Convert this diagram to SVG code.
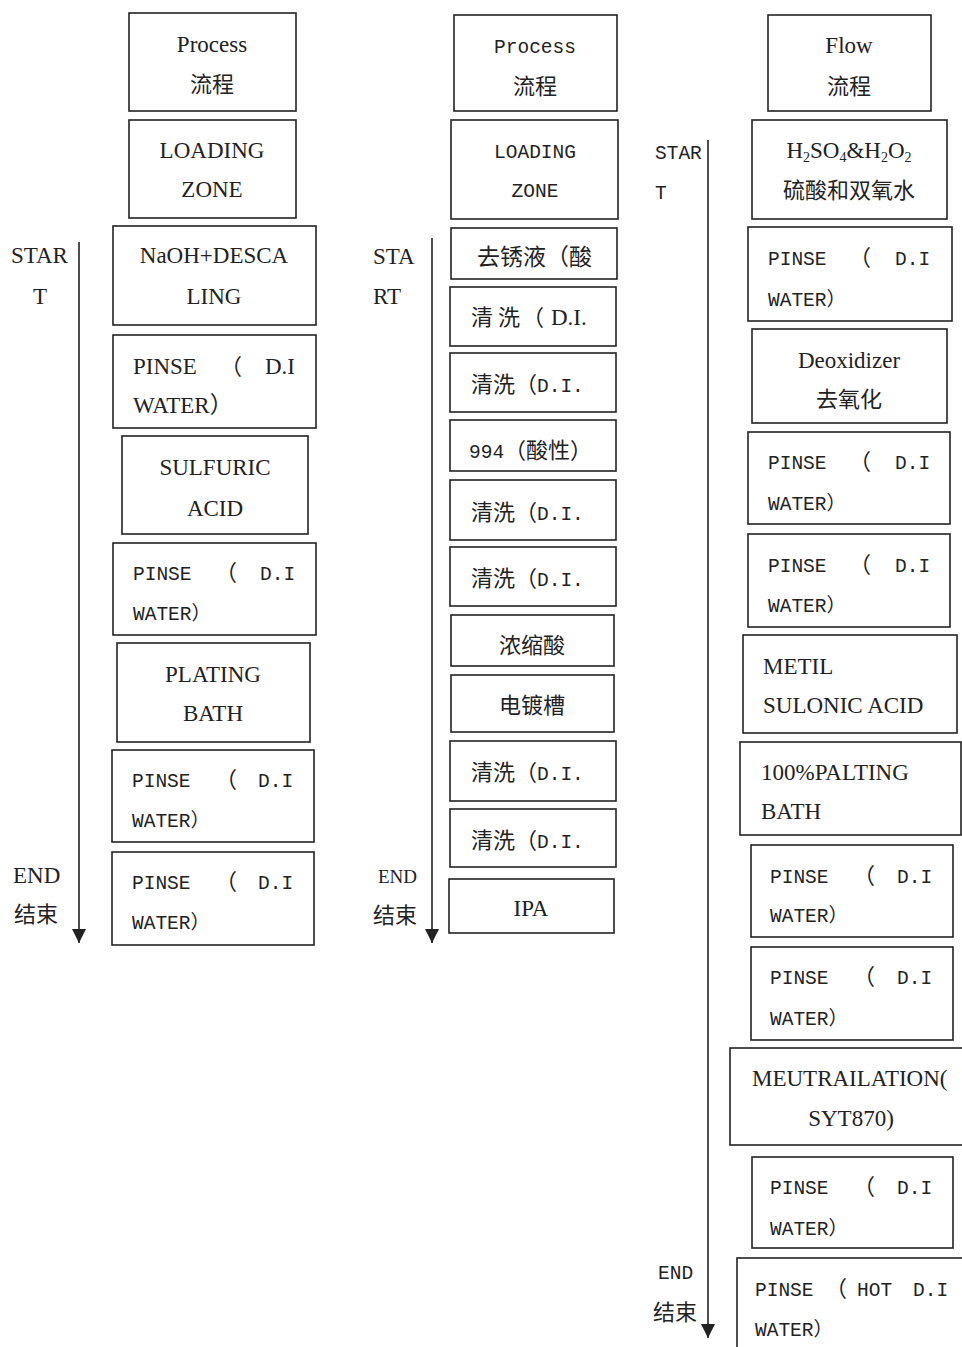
<svg xmlns="http://www.w3.org/2000/svg" width="962" height="1347" viewBox="0 0 962 1347">
<style>
.box{fill:#fff;stroke:#222;stroke-width:1.6}
.s{font-family:"Liberation Serif","Noto Sans CJK SC",serif;font-size:23px;fill:#222}
.m{font-family:"Liberation Mono","Noto Sans CJK SC",monospace;font-size:19.5px;fill:#222}
.c{font-family:"Noto Sans CJK SC",sans-serif;font-size:22px;fill:#222}
.mid{text-anchor:middle}
.ln{stroke:#222;stroke-width:1.6;fill:none}
</style>
<defs>
<marker id="ah" markerUnits="userSpaceOnUse" markerWidth="14" markerHeight="14" refX="14" refY="7" orient="auto">
<path d="M0,0 L14,7 L0,14 z" fill="#222"/>
</marker>
</defs>
<rect width="962" height="1347" fill="#fff"/>
<g id="connectors">
<line class="ln" x1="79" y1="242" x2="79" y2="943" marker-end="url(#ah)"/>
<line class="ln" x1="432" y1="238" x2="432" y2="943" marker-end="url(#ah)"/>
<line class="ln" x1="708" y1="140" x2="708" y2="1338" marker-end="url(#ah)"/>
</g>
<g id="labels">
<text class="s" x="11" y="263">STAR</text>
<text class="s mid" x="40" y="304">T</text>
<text class="s" x="13" y="883">END</text>
<text class="c" x="14" y="922">结束</text>
<text class="s" x="373" y="264">STA</text>
<text class="s" x="373" y="304">RT</text>
<text class="s" x="378" y="883" style="font-size:19px">END</text>
<text class="c" x="373" y="923">结束</text>
<text class="m" x="655" y="159">STAR</text>
<text class="m" x="655" y="199">T</text>
<text class="m" x="658" y="1279">END</text>
<text class="c" x="653" y="1320">结束</text>
</g>
<!-- Column 1 -->
<g id="c1-process"><rect class="box" x="129" y="13" width="167" height="98"/><text class="s mid" x="212" y="52">Process</text><text class="c mid" x="212" y="92">流程</text></g>
<g id="c1-loading"><rect class="box" x="129" y="120" width="167" height="98"/><text class="s mid" x="212" y="158">LOADING</text><text class="s mid" x="212" y="197">ZONE</text></g>
<g id="c1-naoh"><rect class="box" x="113" y="226" width="203" height="99"/><text class="s mid" x="214" y="263">NaOH+DESCA</text><text class="s mid" x="214" y="304">LING</text></g>
<g id="c1-rinse1"><rect class="box" x="113" y="335" width="203" height="93"/><text class="s" x="133" y="374">PINSE</text><text class="c" x="220" y="374">（</text><text class="s" x="265" y="374">D.I</text><text class="s" x="133" y="413">WATER）</text></g>
<g id="c1-sulfuric"><rect class="box" x="122" y="436" width="186" height="98"/><text class="s mid" x="215" y="475">SULFURIC</text><text class="s mid" x="215" y="516">ACID</text></g>
<g id="c1-rinse2"><rect class="box" x="113" y="543" width="203" height="92"/><text class="m" x="133" y="580">PINSE</text><text class="c" x="215" y="580">（</text><text class="m" x="260" y="580">D.I</text><text class="m" x="133" y="620">WATER）</text></g>
<g id="c1-plating"><rect class="box" x="117" y="643" width="193" height="99"/><text class="s mid" x="213" y="682">PLATING</text><text class="s mid" x="213" y="721">BATH</text></g>
<g id="c1-rinse3"><rect class="box" x="112" y="750" width="202" height="92"/><text class="m" x="132" y="787">PINSE</text><text class="c" x="215" y="787">（</text><text class="m" x="258" y="787">D.I</text><text class="m" x="132" y="827">WATER）</text></g>
<g id="c1-rinse4"><rect class="box" x="112" y="852" width="202" height="93"/><text class="m" x="132" y="889">PINSE</text><text class="c" x="215" y="889">（</text><text class="m" x="258" y="889">D.I</text><text class="m" x="132" y="929">WATER）</text></g>
<!-- Column 2 -->
<g id="c2-process"><rect class="box" x="454" y="15" width="163" height="96"/><text class="m mid" x="535" y="53">Process</text><text class="c mid" x="535" y="94">流程</text></g>
<g id="c2-loading"><rect class="box" x="451" y="120" width="167" height="99"/><text class="m mid" x="535" y="158">LOADING</text><text class="m mid" x="535" y="197">ZONE</text></g>
<g id="c2-derust"><rect class="box" x="451" y="228" width="166" height="51"/><text class="c" x="477" y="265" style="font-size:23px">去锈液（酸</text></g>
<g id="c2-rinse1"><rect class="box" x="450" y="287" width="166" height="59"/><text class="c" x="471" y="325">清</text><text class="c" x="498" y="325">洗</text><text class="c" x="522" y="325">（</text><text class="s" x="551" y="325">D.I.</text></g>
<g id="c2-rinse2"><rect class="box" x="450" y="353" width="166" height="59"/><text x="471" y="392"><tspan class="c">清洗（</tspan><tspan class="m">D.I.</tspan></text></g>
<g id="c2-994"><rect class="box" x="450" y="420" width="166" height="51"/><text x="469" y="458"><tspan class="m">994</tspan><tspan class="c">（酸性）</tspan></text></g>
<g id="c2-rinse3"><rect class="box" x="450" y="480" width="166" height="60"/><text x="471" y="520"><tspan class="c">清洗（</tspan><tspan class="m">D.I.</tspan></text></g>
<g id="c2-rinse4"><rect class="box" x="450" y="547" width="166" height="59"/><text x="471" y="586"><tspan class="c">清洗（</tspan><tspan class="m">D.I.</tspan></text></g>
<g id="c2-concacid"><rect class="box" x="451" y="615" width="163" height="51"/><text class="c mid" x="532" y="653">浓缩酸</text></g>
<g id="c2-plating"><rect class="box" x="451" y="675" width="163" height="57"/><text class="c mid" x="532" y="713">电镀槽</text></g>
<g id="c2-rinse5"><rect class="box" x="450" y="741" width="166" height="60"/><text x="471" y="780"><tspan class="c">清洗（</tspan><tspan class="m">D.I.</tspan></text></g>
<g id="c2-rinse6"><rect class="box" x="450" y="809" width="166" height="58"/><text x="471" y="848"><tspan class="c">清洗（</tspan><tspan class="m">D.I.</tspan></text></g>
<g id="c2-ipa"><rect class="box" x="449" y="879" width="165" height="54"/><text class="s mid" x="531" y="916">IPA</text></g>
<!-- Column 3 -->
<g id="c3-flow"><rect class="box" x="768" y="15" width="163" height="96"/><text class="s mid" x="849" y="53">Flow</text><text class="c mid" x="849" y="94">流程</text></g>
<g id="c3-h2so4"><rect class="box" x="752" y="120" width="195" height="99"/><text class="s mid" x="849" y="158">H<tspan font-size="14" dy="4">2</tspan><tspan dy="-4">SO</tspan><tspan font-size="14" dy="4">4</tspan><tspan dy="-4">&amp;H</tspan><tspan font-size="14" dy="4">2</tspan><tspan dy="-4">O</tspan><tspan font-size="14" dy="4">2</tspan></text><text class="c mid" x="849" y="198">硫酸和双氧水</text></g>
<g id="c3-rinse1"><rect class="box" x="748" y="227" width="204" height="94"/><text class="m" x="768" y="265">PINSE</text><text class="c" x="849" y="265">（</text><text class="m" x="895" y="265">D.I</text><text class="m" x="768" y="306">WATER）</text></g>
<g id="c3-deox"><rect class="box" x="752" y="329" width="195" height="94"/><text class="s mid" x="849" y="368">Deoxidizer</text><text class="c mid" x="849" y="407">去氧化</text></g>
<g id="c3-rinse2"><rect class="box" x="748" y="432" width="202" height="92"/><text class="m" x="768" y="469">PINSE</text><text class="c" x="849" y="469">（</text><text class="m" x="895" y="469">D.I</text><text class="m" x="768" y="510">WATER）</text></g>
<g id="c3-rinse3"><rect class="box" x="748" y="534" width="202" height="93"/><text class="m" x="768" y="572">PINSE</text><text class="c" x="849" y="572">（</text><text class="m" x="895" y="572">D.I</text><text class="m" x="768" y="612">WATER）</text></g>
<g id="c3-metil"><rect class="box" x="743" y="635" width="214" height="98"/><text class="s" x="763" y="674">METIL</text><text class="s" x="763" y="713">SULONIC ACID</text></g>
<g id="c3-bath"><rect class="box" x="740" y="742" width="221" height="93"/><text class="s" x="761" y="780">100%PALTING</text><text class="s" x="761" y="819">BATH</text></g>
<g id="c3-rinse4"><rect class="box" x="751" y="845" width="202" height="92"/><text class="m" x="770" y="883">PINSE</text><text class="c" x="853" y="883">（</text><text class="m" x="897" y="883">D.I</text><text class="m" x="770" y="922">WATER）</text></g>
<g id="c3-rinse5"><rect class="box" x="751" y="947" width="202" height="93"/><text class="m" x="770" y="984">PINSE</text><text class="c" x="853" y="984">（</text><text class="m" x="897" y="984">D.I</text><text class="m" x="770" y="1025">WATER）</text></g>
<g id="c3-neutral"><rect class="box" x="730" y="1048" width="240" height="97"/><text class="s" x="752" y="1086">MEUTRAILATION(</text><text class="s mid" x="851" y="1126">SYT870)</text></g>
<g id="c3-rinse6"><rect class="box" x="752" y="1157" width="201" height="91"/><text class="m" x="770" y="1194">PINSE</text><text class="c" x="853" y="1194">（</text><text class="m" x="897" y="1194">D.I</text><text class="m" x="770" y="1235">WATER）</text></g>
<g id="c3-hotrinse"><rect class="box" x="737" y="1258" width="240" height="100"/><text class="m" x="755" y="1296">PINSE</text><text class="c" x="825" y="1296">（</text><text class="m" x="857" y="1296">HOT</text><text class="m" x="913" y="1296">D.I</text><text class="m" x="755" y="1336">WATER）</text></g>
</svg>
